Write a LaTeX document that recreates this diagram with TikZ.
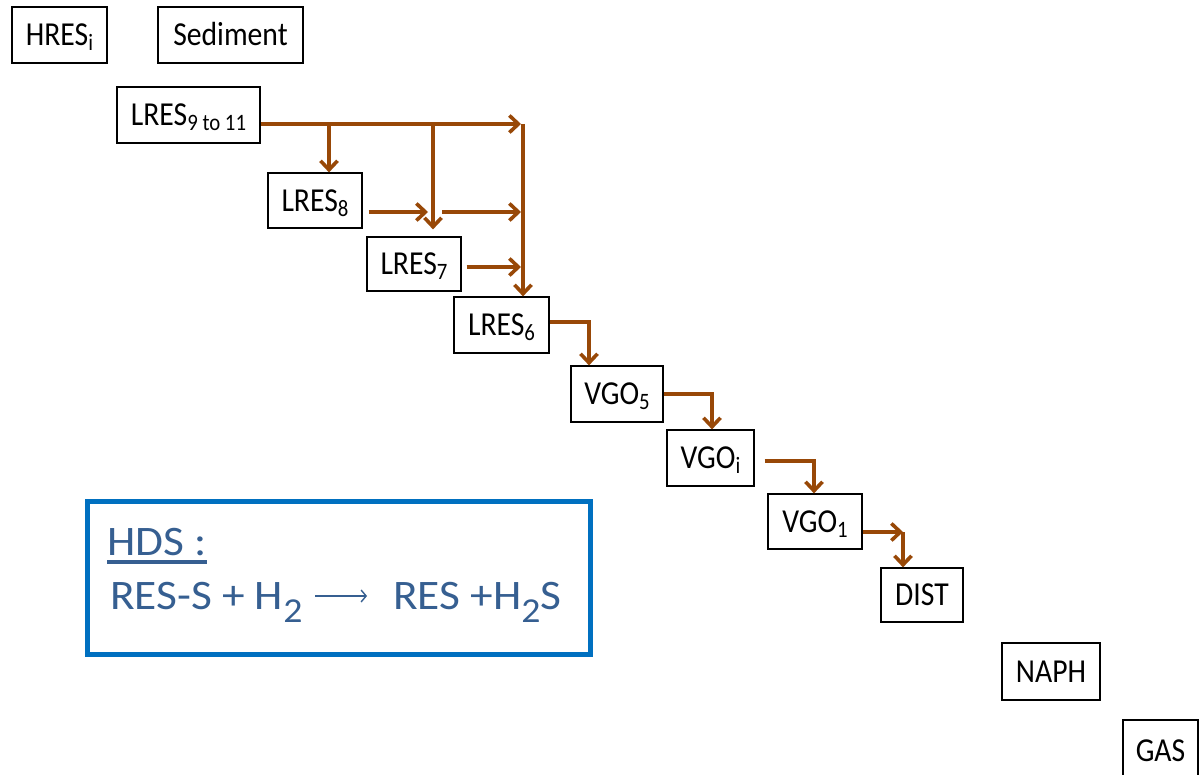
\documentclass[tikz,border=0pt]{standalone}
\usepackage{fontspec}
\setmainfont{Carlito}[FakeStretch=0.885]
\newfontfamily\bluefont{Carlito}[FakeStretch=1.08]
\usetikzlibrary{arrows.meta,calc}
\definecolor{brn}{HTML}{984807}
\definecolor{boxblue}{HTML}{0070C0}
\definecolor{txtblue}{HTML}{365F91}
\newcommand\sbk[1]{\raisebox{-5pt}{\fontsize{23.5}{24}\selectfont #1}}
\newcommand\sbb[1]{\raisebox{-13pt}{\fontsize{35}{36}\selectfont #1}}
\begin{document}
\begin{tikzpicture}[x=1pt,y=-1pt,
  box/.style={draw=black,line width=1.2pt,inner sep=0pt,text height=21.7pt,text depth=0pt,font=\fontsize{33.5}{36}\selectfont},
  flow/.style={draw=brn,line width=3.6pt,line join=miter,-{Straight Barb[length=9pt,width=17pt]}},
  bluetext/.style={anchor=base west,inner sep=0pt,text=txtblue,font=\bluefont\fontsize{42}{44}\selectfont}
]
\useasboundingbox[fill=white] (0,0) rectangle (1200,775);
% boxes
\node[box,minimum width=95pt,minimum height=56pt] (hres) at (59.5,35) {HRES\sbk{i}};
\node[box,minimum width=145pt,minimum height=56pt] (sed) at (230.5,35) {Sediment};
\node[box,minimum width=143pt,minimum height=56pt] (l911) at (188.5,115) {LRES\sbk{9 to 11}};
\node[box,minimum width=94pt,minimum height=55pt] (l8) at (315,200.5) {LRES\sbk{8}};
\node[box,minimum width=94pt,minimum height=54pt] (l7) at (414,264) {LRES\sbk{7}};
\node[box,minimum width=95pt,minimum height=56pt] (l6) at (501.5,325) {LRES\sbk{6}};
\node[box,minimum width=92pt,minimum height=56pt] (v5) at (617,394) {VGO\sbk{5}};
\node[box,minimum width=87pt,minimum height=56pt] (vi) at (710.5,458) {VGO\sbk{i}};
\node[box,minimum width=94pt,minimum height=55pt] (v1) at (815,521.5) {VGO\sbk{1}};
\node[box,minimum width=82pt,minimum height=54pt] (dist) at (922,595) {DIST};
\node[box,minimum width=98pt,minimum height=57pt] (naph) at (1051,671.5) {NAPH};
\node[box,minimum width=75pt,minimum height=62pt] (gas) at (1160.5,751) {GAS};
% junction points
\coordinate (j1) at (523,124);
\coordinate (e9) at (521,124);
\coordinate (b8) at (329,124);
\coordinate (b7) at (433,124);
\coordinate (e8) at (428,212);
\coordinate (s8) at (442,212);
\coordinate (e8b) at (521,212);
\coordinate (e7) at (521,267);
\coordinate (k6) at (589,322);
\coordinate (k5) at (712,394);
\coordinate (ki) at (814,461);
\coordinate (k1) at (903,532);
% connectors
\draw[flow] (l911.east |- j1) -- (e9);
\draw[flow] (j1) -- (l6.north -| j1);
\draw[flow] (b8) -- (l8.north -| b8);
\draw[flow,shorten >=7pt] (b7) -- (l7.north -| b7);
\draw[flow,shorten <=6pt] (l8.east |- e8) -- (e8);
\draw[flow] (s8) -- (e8b);
\draw[flow,shorten <=5pt] (l7.east |- e7) -- (e7);
\draw[flow] (l6.east |- k6) -| (v5.north -| k6);
\draw[flow] (v5.east |- k5) -| (vi.north -| k5);
\draw[flow,shorten <=10pt] (vi.east |- ki) -| (v1.north -| ki);
\draw[flow] (v1.east |- k1) -- (k1);
\draw[flow] (k1) -- (dist.north -| k1);
% HDS box
\node[draw=boxblue,line width=5pt,minimum width=503pt,minimum height=153pt,inner sep=0pt] (hds) at (338.5,577.5) {};
\node[bluetext] (hdst) at (107,555) {HDS :};
\draw[txtblue,line width=4pt] ($(hdst.base west)+(0,7)$) -- ($(hdst.base east)+(0,7)$);
\node[bluetext] (lhs) at (110,609) {RES-S + H\sbb{2}};
\node[bluetext] (rhs) at (393,609) {RES +H\sbb{2}S};
\coordinate (a1) at (315,596);
\coordinate (a2) at (367,596);
\draw[txtblue,line width=1.4pt,-{Straight Barb[length=5pt,width=12pt]}] (a1) -- (a2);
\end{tikzpicture}
\end{document}
